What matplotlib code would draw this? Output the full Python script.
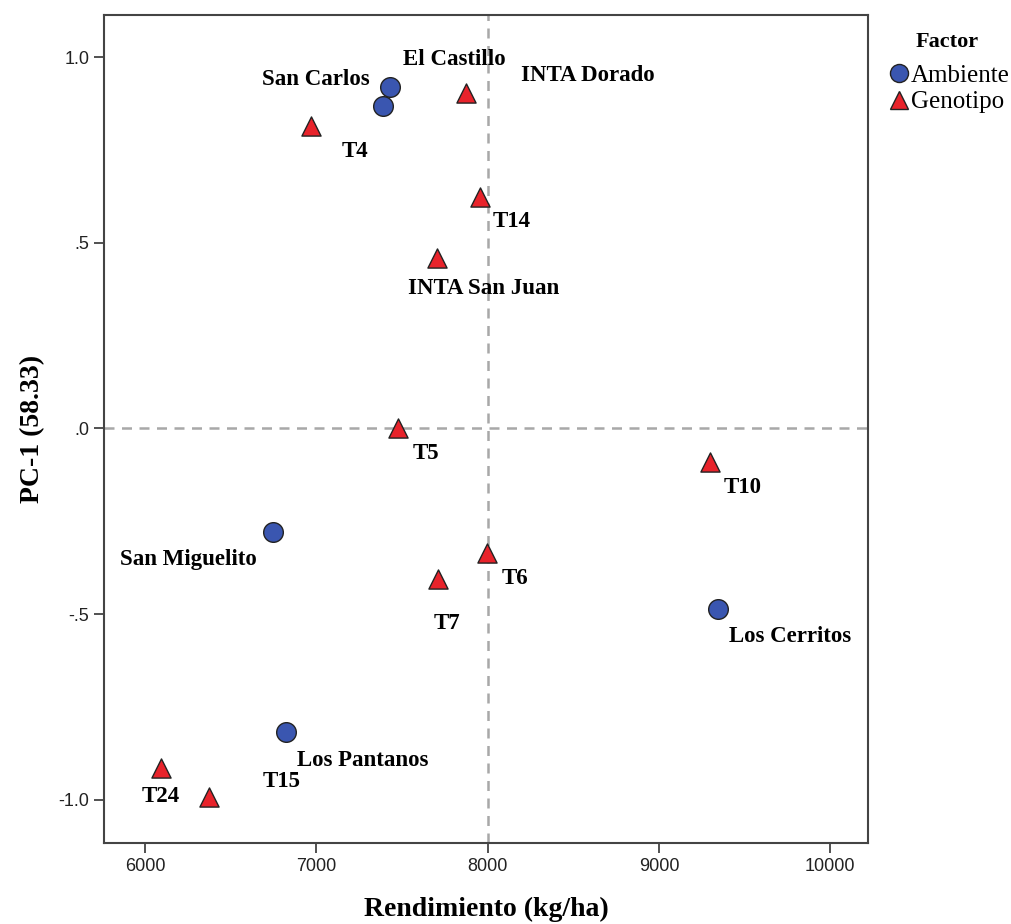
import matplotlib
matplotlib.use('Agg')
import matplotlib.pyplot as plt
from matplotlib.lines import Line2D

# Biplot data: rendimiento (kg/ha) vs PC-1
amb_names = ['El Castillo', 'San Carlos', 'San Miguelito', 'Los Cerritos', 'Los Pantanos']
amb_x = [7430, 7390, 6745, 9345, 6825]
amb_y = [0.918, 0.867, -0.280, -0.487, -0.818]

gen_names = ['INTA Dorado', 'T4', 'T14', 'INTA San Juan', 'T5', 'T10',
             'T6', 'T7', 'T24', 'T15']
gen_x = [7875, 6970, 7955, 7705, 7478, 9295, 7998, 7712, 6090, 6375]
gen_y = [0.904, 0.813, 0.622, 0.458, 0.000, -0.089, -0.334, -0.404, -0.913, -0.993]

x_ticks = [6000, 7000, 8000, 9000, 10000]
y_ticks = [-1.0, -0.5, 0.0, 0.5, 1.0]
y_ticklabels = ['-1.0', '-.5', '.0', '.5', '1.0']

# label offsets in pixels (label centre relative to marker)
amb_off = [(64, 28), (-67, 27), (-84, -27), (72, -27), (76, -28)]
gen_off = [(121, 17), (44, -25), (32, -24), (46, -30), (28, -25), (33, -26),
           (28, -26), (9, -45), (0, -29), (72, 16)]

BLUE = '#3a56b0'
RED = '#e8232b'
SERIF = 'Liberation Serif'
SANS = 'Liberation Sans'

fig = plt.figure(figsize=(10.11, 9.24), dpi=100)
ax = fig.add_axes([0.1029, 0.0877, 0.7557, 0.896])

ax.axvline(8000, color='#a8a8a8', ls=(0, (4, 3)), lw=1.8, zorder=1)
ax.axhline(0, color='#a8a8a8', ls=(0, (4, 3)), lw=1.8, zorder=1)

ax.scatter(amb_x, amb_y, s=200, marker='o', color=BLUE, edgecolors='#222222',
           linewidths=1.0, zorder=3)
ax.scatter(gen_x, gen_y, s=190, marker='^', color=RED, edgecolors='#222222',
           linewidths=1.0, zorder=3)

for name, x, y, off in zip(amb_names, amb_x, amb_y, amb_off):
    ax.annotate(name, (x, y), xytext=off, textcoords='offset pixels',
                ha='center', va='center', fontfamily=SERIF, fontweight='bold',
                fontsize=16.5, zorder=4)
for name, x, y, off in zip(gen_names, gen_x, gen_y, gen_off):
    ax.annotate(name, (x, y), xytext=off, textcoords='offset pixels',
                ha='center', va='center', fontfamily=SERIF, fontweight='bold',
                fontsize=16.5, zorder=4)

ax.set_xlim(5760, 10220)
ax.set_ylim(-1.116, 1.113)
ax.set_xticks(x_ticks)
ax.set_yticks(y_ticks)
ax.set_yticklabels(y_ticklabels)
ax.tick_params(direction='out', length=7, width=1.2, labelsize=13,
               colors='#333333', labelcolor='#222222')
for lbl in ax.get_xticklabels() + ax.get_yticklabels():
    lbl.set_fontfamily(SANS)
for sp in ax.spines.values():
    sp.set_linewidth(1.5)
    sp.set_color('#444444')

ax.set_xlabel('Rendimiento (kg/ha)', fontfamily=SERIF, fontweight='bold',
              fontsize=20, labelpad=16)
ax.set_ylabel('PC-1 (58.33)', fontfamily=SERIF, fontweight='bold',
              fontsize=20, labelpad=10)

handles = [
    Line2D([], [], marker='o', ls='', markersize=13, markerfacecolor=BLUE,
           markeredgecolor='#222222', label='Ambiente'),
    Line2D([], [], marker='^', ls='', markersize=13, markerfacecolor=RED,
           markeredgecolor='#222222', label='Genotipo'),
]
leg = fig.legend(handles=handles, loc='upper left', bbox_to_anchor=(0.864, 0.976),
                 frameon=False, title='Factor', handletextpad=-0.1,
                 borderaxespad=0, labelspacing=0.15, handlelength=1.2,
                 prop={'family': SERIF, 'size': 18})
leg.get_title().set_fontfamily(SERIF)
leg.get_title().set_fontweight('bold')
leg.get_title().set_fontsize(16)
leg._legend_box.sep = 9

fig.savefig('out.png', dpi=100)
